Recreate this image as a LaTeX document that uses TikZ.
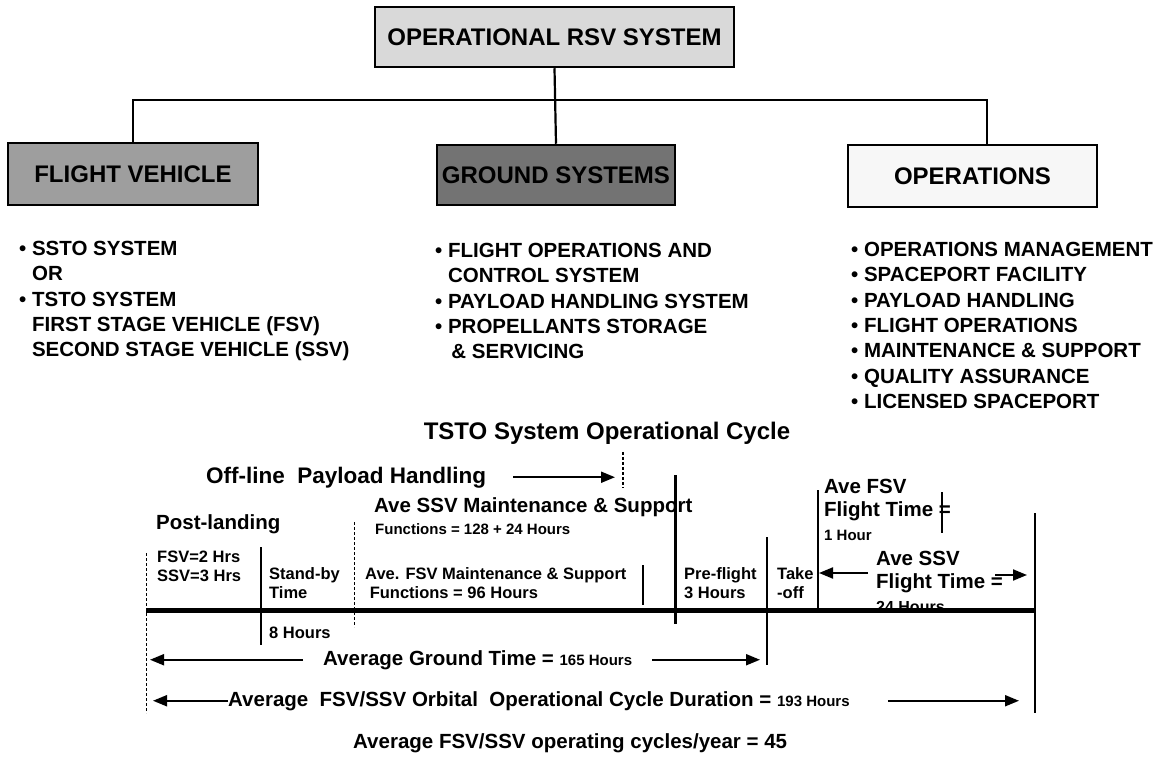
\documentclass[tikz,border=0pt]{standalone}
\usepackage{fontspec}
\setmainfont{Liberation Sans}
\usetikzlibrary{positioning}
\usetikzlibrary{arrows.meta}

\newcommand{\boxfont}{\fontsize{24}{28}\selectfont\bfseries}
\newcommand{\listfont}{\fontsize{20.5}{25.3}\selectfont\bfseries}
\newcommand{\tlfont}{\fontsize{20.5}{23.5}\selectfont\bfseries}
\newcommand{\midfont}{\fontsize{16.5}{19}\selectfont\bfseries}
\newcommand{\smfont}{\fontsize{15}{18}\selectfont\bfseries}

\tikzset{
  sysbox/.style={draw, line width=2.5pt, inner sep=0pt, font=\boxfont},
  listtext/.style={anchor=north west, align=left, inner sep=0pt, font=\listfont},
  tltext/.style={anchor=base west, align=left, inner sep=0pt, font=\tlfont},
  tlmid/.style={anchor=base west, align=left, inner sep=0pt, font=\midfont},
  tick/.style={line width=1.2pt},
  heavytick/.style={line width=2.6pt},
  faint/.style={line width=0.9pt, densely dashed},
  arr/.style={-{Triangle[length=14pt,width=11pt]}, line width=2pt},
}

\begin{document}
\begin{tikzpicture}[x=1pt, y=-1pt]
    \useasboundingbox (0,0) rectangle (1163,759);

    % Define nodes
    \node[sysbox, fill=black!15, minimum width=359pt, minimum height=60pt] (rsv) at (554.5,37) {OPERATIONAL RSV SYSTEM};
    \node[sysbox, fill=black!38, minimum width=250pt, minimum height=62pt] (fv) at (133,174) {FLIGHT VEHICLE};
    \node[sysbox, fill=black!55, minimum width=238pt, minimum height=60pt] (gs) at (556,175) {GROUND SYSTEMS};
    \node[sysbox, fill=black!3, minimum width=249pt, minimum height=62pt] (ops) at (972.5,176) {OPERATIONS};
    \coordinate (busR) at (987,100);

    \node[listtext] (fvlist) at (19,241) {\textbullet\ SSTO SYSTEM\\
      \hphantom{\textbullet\ }OR\\
      \textbullet\ TSTO SYSTEM\\
      \hphantom{\textbullet\ }FIRST STAGE VEHICLE (FSV)\\
      \hphantom{\textbullet\ }SECOND STAGE VEHICLE (SSV)};
    \node[listtext] (gslist) at (435,243) {\textbullet\ FLIGHT OPERATIONS AND\\
      \hphantom{\textbullet\ }CONTROL SYSTEM\\
      \textbullet\ PAYLOAD HANDLING SYSTEM\\
      \textbullet\ PROPELLANTS STORAGE\\
      \hphantom{\textbullet\ }\,\& SERVICING};
    \node[listtext] (opslist) at (851,242) {\textbullet\ OPERATIONS MANAGEMENT\\
      \textbullet\ SPACEPORT FACILITY\\
      \textbullet\ PAYLOAD HANDLING\\
      \textbullet\ FLIGHT OPERATIONS\\
      \textbullet\ MAINTENANCE \& SUPPORT\\
      \textbullet\ QUALITY ASSURANCE\\
      \textbullet\ LICENSED SPACEPORT};

    % Connect the nodes
    \draw[line width=2.2pt] (rsv.south) -- (gs.north);
    \draw[line width=2.2pt] (fv.north) |- (busR) -- (busR |- ops.north);

    % cycle labels (multi-line ones sit on their last line)
    \node[tltext, anchor=base, font=\fontsize{24}{28}\selectfont\bfseries] (cycle) at (607,439) {TSTO System Operational Cycle};
    \node[tltext, font=\fontsize{22.5}{26}\selectfont\bfseries] (offline) at (206,483) {Off-line\ \ Payload Handling};
    \node[tltext] (postland) at (156,529) {Post-landing};
    \node[tltext] (ssvmaint) at (374,512) {Ave SSV Maintenance \& Support};
    \node[tltext, font=\smfont] (ssvfunc) at (375,534) {Functions = 128 + 24 Hours};
    \node[tlmid] (landhrs) at (157,581) {FSV=2 Hrs\\SSV=3 Hrs};
    \node[tlmid] (standby) at (269,598) {Stand-by\\Time};
    \node[tlmid] (fsvmaint) at (365,598) {Ave. FSV Maintenance \& Support\\\ Functions = 96 Hours};
    \node[tlmid] (preflight) at (684,598) {Pre-flight\\3 Hours};
    \node[tlmid] (takeoff) at (777,598) {Take\\-off};
    \node[tltext] (fsvflight) at (824,540) {Ave FSV\\Flight Time =\\{\smfont 1 Hour}};
    \node[tltext] (ssvflight) at (876,612) {Ave SSV\\Flight Time =\\{\fontsize{16}{18}\selectfont 24 Hours}};
    \node[tlmid] (eighthrs) at (269,638) {8 Hours};
    \node[tltext] (groundtime) at (323,665) {Average Ground Time = {\smfont 165 Hours}};
    \node[tltext] (orbital) at (228,706) {Average\ \ FSV/SSV Orbital\ \ Operational Cycle Duration = {\smfont 193 Hours}};
    \node[tltext] (cyclesyr) at (353,748) {Average FSV/SSV operating cycles/year = 45};

    % timeline marks
    \coordinate (barL) at (146,610);
    \coordinate (barR) at (1035,610);
    \coordinate (payEnd) at (623,474);
    \coordinate (preEnd) at (767,657);
    \coordinate (takeEnd) at (819,573);
    \coordinate (ssvEnd) at (1029,575);
    \coordinate (orbEnd) at (1019,700);

    \draw[faint] (146,553) -- (146,713);
    \draw[heavytick] (261,547) -- (261,645);
    \draw[faint] (354,522) -- (354,627);
    \draw[faint, line width=1.2pt] (623,452) -- (623,488);
    \draw[tick] (643,565) -- (643,605);
    \draw[line width=3pt] (675,475) -- (675,624);
    \draw[tick] (767,537) -- (767,665);
    \draw[heavytick] (818,490) -- (818,608);
    \draw[line width=2pt] (942,492) -- (942,533);
    \draw[heavytick] (1035,513) -- (1035,713);
    \draw[line width=5pt] (barL) -- (barR);

    % spans
    \draw[arr] ([xshift=27pt]offline.east) -- ([xshift=-8pt]payEnd |- offline.east);
    \draw[arr] (868,573) -- (takeEnd);
    \draw[arr] (995,575) -- ([xshift=-2pt]ssvEnd);
    \draw[arr] ([xshift=-20pt]groundtime.west) -- ([xshift=4pt]barL |- groundtime.west);
    \draw[arr] ([xshift=20pt]groundtime.east) -- ([xshift=-7pt]preEnd |- groundtime.east);
    \draw[arr] (orbital.west) -- ([xshift=7pt]barL |- orbital.west);
    \draw[arr] ([xshift=38pt]orbital.east) -- (orbEnd |- orbital.east);

\end{tikzpicture}
\end{document}
